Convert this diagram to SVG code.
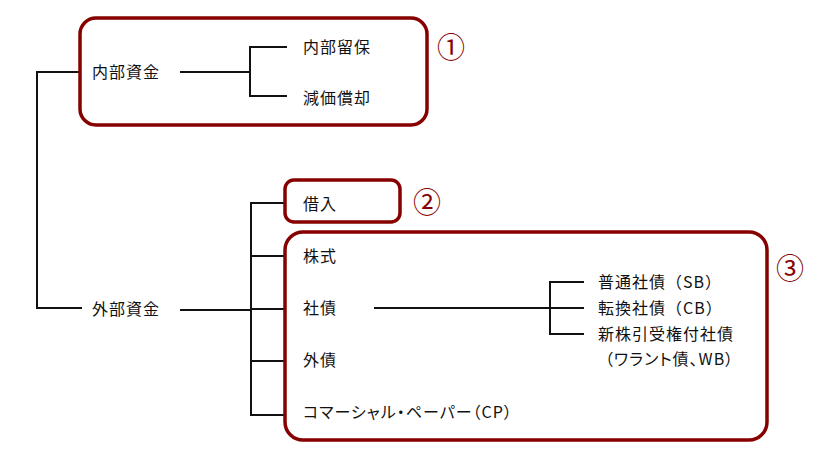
<svg xmlns="http://www.w3.org/2000/svg" width="814" height="467" viewBox="0 0 814 467">
<style>
text{font-family:"Noto Sans CJK JP","Noto Sans",sans-serif;font-size:16px;fill:#111;letter-spacing:1px}
.box{fill:none;stroke:#870000;stroke-width:3.5}
.num{font-size:28px;fill:#870000;letter-spacing:0}
.c{fill:none;stroke:#111;stroke-width:2}
.t{font-feature-settings:"palt";letter-spacing:1px}
</style>
<rect width="814" height="467" fill="#fff"/>
<g id="connectors">
<polyline class="c" points="80,72 37,72 37,308 82,308"/>
<line class="c" x1="180" y1="72" x2="250" y2="72"/>
<polyline class="c" points="287,47 250,47 250,96 287,96"/>
<line class="c" x1="180" y1="310" x2="251" y2="310"/>
<polyline class="c" points="285,203 251,203 251,415 285,415"/>
<line class="c" x1="251" y1="256" x2="285" y2="256"/>
<line class="c" x1="251" y1="309" x2="285" y2="309"/>
<line class="c" x1="251" y1="361" x2="285" y2="361"/>
<line class="c" x1="374" y1="308" x2="584" y2="308"/>
<polyline class="c" points="584,282 550,282 550,334 584,334"/>
</g>
<g id="group1">
<rect class="box" x="80" y="18" width="347" height="107" rx="16"/>
<text class="num" x="437" y="57.5">①</text>
</g>
<g id="naibu"><text x="92" y="78">内部資金</text></g>
<g id="ryuho"><text x="303" y="53">内部留保</text></g>
<g id="genka"><text x="303" y="104">減価償却</text></g>
<g id="gaibu"><text x="92" y="315">外部資金</text></g>
<g id="group2">
<rect class="box" x="285" y="180" width="115" height="42" rx="9"/>
<text class="num" x="413" y="212.5">②</text>
<text x="303" y="210">借入</text>
</g>
<g id="group3">
<rect class="box" x="285" y="232" width="482" height="208" rx="18"/>
<text class="num" x="776" y="278.5">③</text>
</g>
<g id="kabushiki"><text x="303" y="262">株式</text></g>
<g id="shasai"><text x="303" y="314">社債</text></g>
<g id="gaisai"><text x="303" y="366">外債</text></g>
<g id="cp"><text class="t" x="303" y="418">コマーシャル・ペーパー（CP）</text></g>
<g id="sb"><text x="598" y="288">普通社債（SB）</text></g>
<g id="cb"><text x="598" y="314">転換社債（CB）</text></g>
<g id="wb"><text x="598" y="340">新株引受権付社債</text><text class="t" x="605" y="365">（ワラント債、WB）</text></g>
</svg>
